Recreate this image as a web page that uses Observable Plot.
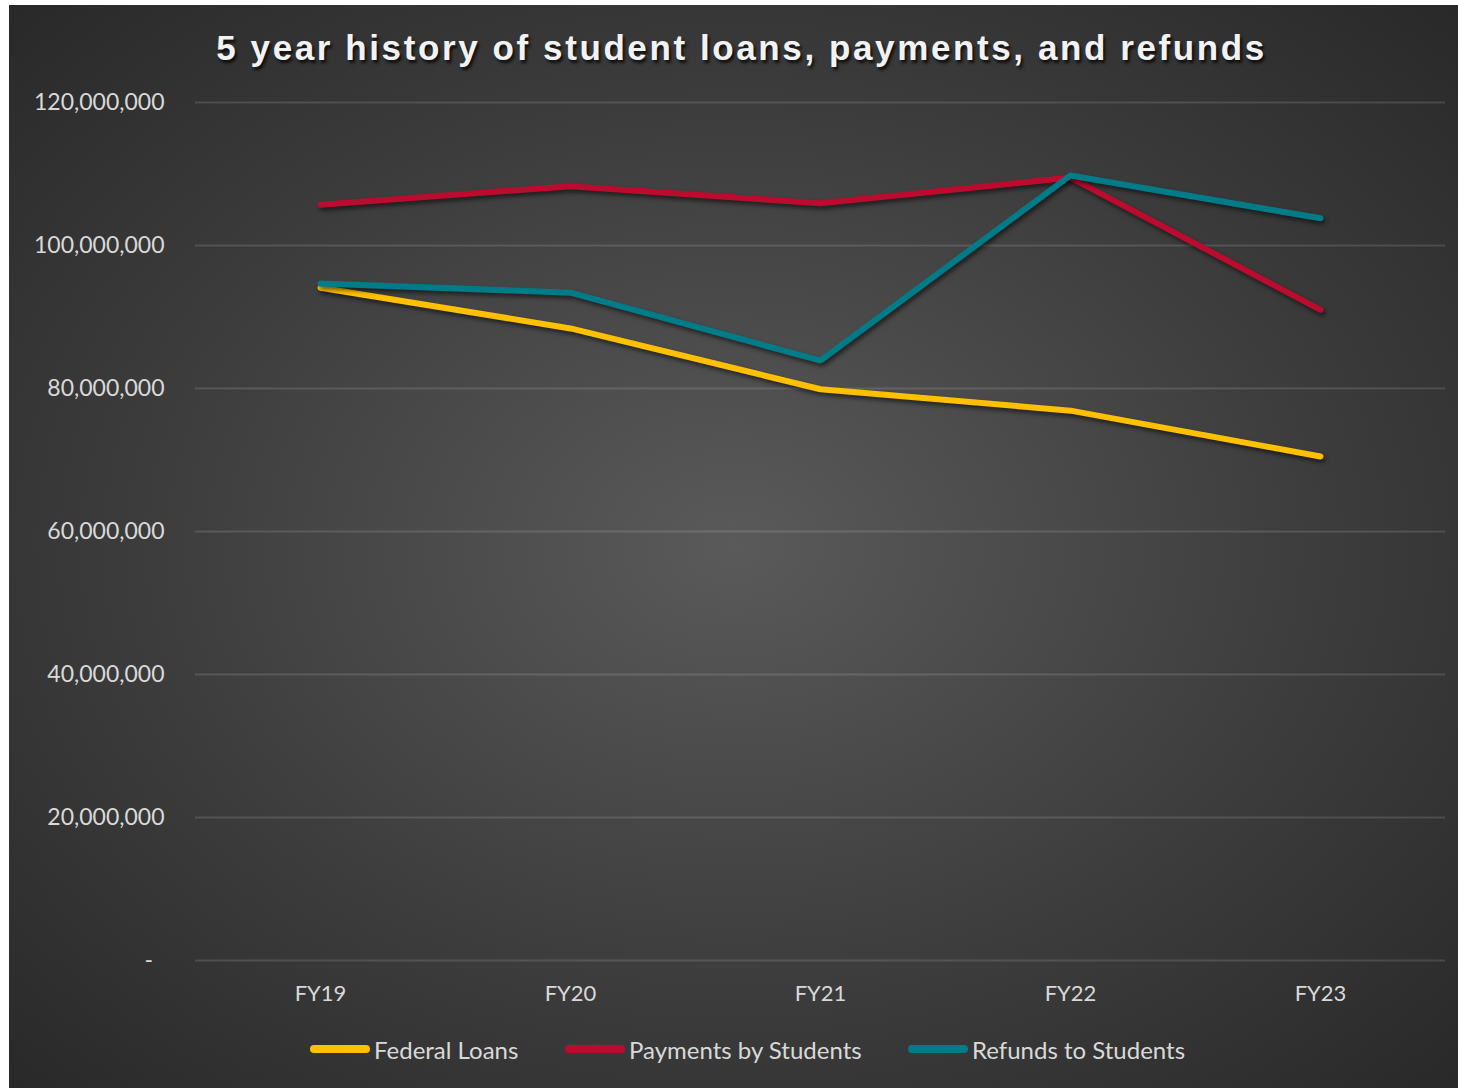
<!DOCTYPE html>
<html>
<head>
<meta charset="utf-8">
<script src="https://cdn.jsdelivr.net/npm/d3@7"></script>
<script src="https://cdn.jsdelivr.net/npm/@observablehq/plot@0.6"></script>
<style>
  html, body { margin: 0; padding: 0; background: #ffffff; }
  #card {
    position: absolute; left: 9px; top: 5px; width: 1449px; height: 1083px;
    background: radial-gradient(ellipse 75% 75% at 50% 50%, #5a5a5a 0%, #3c3c3c 55%, #262626 100%);
    overflow: hidden;
  }
  #title {
    position: absolute; left: 8px; top: 23px; width: 1449px; text-align: center;
    font-family: "Liberation Sans", Arial, sans-serif; font-weight: bold; font-size: 35px;
    letter-spacing: 2.6px; color: #f2f2f2;
    text-shadow: 2px 3px 3px rgba(0,0,0,0.75);
    line-height: 40px;
  }
  #plot { position: absolute; left: 0; top: 75px; }
  #plot g[aria-label="line"] path { filter: drop-shadow(2px 3px 2px rgba(0,0,0,0.55)); }
  #plot g[aria-label="y-axis tick label"] { font-size: 23px; }
  #legend {
    position: absolute; top: 1025px; left: 0; width: 1449px; height: 38px;
    font-family: Lato, sans-serif; font-size: 24px; color: #d9d9d9;
  }
  .item { position: absolute; top: 0; height: 38px; display: flex; align-items: center; }
  .swatch { width: 60px; height: 8px; border-radius: 4px; margin-right: 4px; }
</style>
</head>
<body>
<div id="card">
  <div id="title"></div>
  <div id="plot"></div>
  <div id="legend"></div>
</div>
<script>
const title = "5 year history of student loans, payments, and refunds";
const years = ["FY19", "FY20", "FY21", "FY22", "FY23"];
const seriesNames = ["Federal Loans", "Payments by Students", "Refunds to Students"];
const federalLoans = [94.1e6, 88.4e6, 79.9e6, 76.9e6, 70.5e6];
const paymentsByStudents = [105.7e6, 108.3e6, 105.9e6, 109.5e6, 91.0e6];
const refundsToStudents = [94.7e6, 93.4e6, 83.9e6, 109.8e6, 103.8e6];
const colors = ["#FFC000", "#BA0C2F", "#007C89"];
const yTicks = [0, 20e6, 40e6, 60e6, 80e6, 100e6, 120e6];

const seriesValues = [federalLoans, paymentsByStudents, refundsToStudents];
const data = [];
seriesNames.forEach((s, i) => years.forEach((y, j) => data.push({series: s, year: y, value: seriesValues[i][j]})));

document.getElementById("title").textContent = title;

const fmt = d3.format(",");
const chart = Plot.plot({
  width: 1449,
  height: 940,
  marginLeft: 186,
  marginRight: 13,
  marginTop: 22,
  marginBottom: 60,
  style: {background: "transparent", fontFamily: "Lato, sans-serif", fontSize: "22px", color: "#d9d9d9"},
  x: {type: "point", domain: years, padding: 0.5, label: null},
  y: {domain: [0, 120e6], label: null},
  color: {domain: seriesNames, range: colors},
  marks: [
    Plot.ruleY(yTicks, {stroke: "#ffffff", strokeOpacity: 0.13, strokeWidth: 2}),
    Plot.axisY({ticks: yTicks, tickSize: 0, tickPadding: 31, label: null,
      tickFormat: d => d === 0 ? "-\u2002" : fmt(d), fill: "#d9d9d9"}),
    Plot.axisX({tickSize: 0, tickPadding: 25, label: null, fill: "#d9d9d9"}),
    Plot.line(data, {x: "year", y: "value", z: "series", stroke: "series",
      strokeWidth: 6, strokeLinecap: "round", strokeLinejoin: "miter"})
  ]
});
document.getElementById("plot").appendChild(chart);

const legend = document.getElementById("legend");
const lefts = [301, 556, 899];
seriesNames.forEach((s, i) => {
  const it = document.createElement("div");
  it.className = "item";
  it.style.left = lefts[i] + "px";
  const sw = document.createElement("div");
  sw.className = "swatch";
  sw.style.background = colors[i];
  const tx = document.createElement("span");
  tx.textContent = s;
  it.appendChild(sw); it.appendChild(tx);
  legend.appendChild(it);
});
</script>
</body>
</html>
